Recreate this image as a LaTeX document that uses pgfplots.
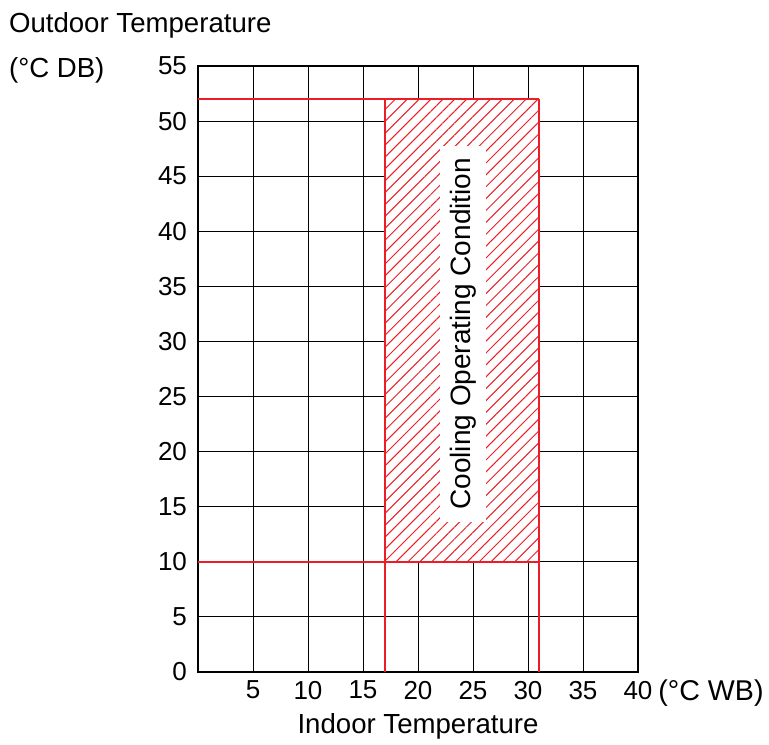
\documentclass[border=0pt]{standalone}
\usepackage{fontspec}
\setmainfont{Liberation Sans}
\usepackage{pgfplots}
\pgfplotsset{compat=1.18}
\usetikzlibrary{patterns.meta}
\definecolor{cred}{RGB}{235,30,40}
\begin{document}
\begin{tikzpicture}
\useasboundingbox (-99pt,-36pt) rectangle (285.5pt,336pt);
\begin{axis}[
  at={(0,0)}, anchor=south west,
  scale only axis, width=220pt, height=303pt,
  xmin=0, xmax=40, ymin=0, ymax=55,
  xtick={5,10,...,40}, ytick={0,5,...,55},
  extra x ticks={0}, extra x tick labels={},
  grid=major, major grid style={black, line width=0.5pt},
  axis line style={black, line width=0.6pt},
  tick style={draw=none},
  /pgf/number format/assume math mode=true,
  ticklabel style={font=\fontsize{13}{15}\selectfont},
  xticklabel style={yshift=-1pt},
  yticklabel style={xshift=-2pt},
]
\addplot[draw=none, fill=white] coordinates {(17,10) (31,10) (31,52) (17,52)} -- cycle;
\addplot[draw=none, pattern={Lines[angle=45, distance=4.2pt, line width=0.5pt]}, pattern color=cred] coordinates {(17,10) (31,10) (31,52) (17,52)} -- cycle;
\addplot[cred, line width=0.6pt] coordinates {(0,52) (31,52)};
\addplot[cred, line width=0.8pt] coordinates {(0,10) (31,10)};
\addplot[cred, line width=0.6pt] coordinates {(17,0) (17,52)};
\addplot[cred, line width=0.6pt] coordinates {(31,0) (31,52)};
\node[fill=white, rotate=90, inner xsep=6pt, inner ysep=5pt, font=\fontsize{14}{16}\selectfont] at (axis cs:24.1,30.7) {Cooling Operating Condition};
\end{axis}
\node[anchor=base west, font=\fontsize{13.8}{16}\selectfont] at (-98pt,319.5pt) {Outdoor Temperature};
\node[anchor=base west, font=\fontsize{13.8}{16}\selectfont] at (-98pt,297pt) {(°C DB)};
\node[anchor=base, font=\fontsize{13.8}{16}\selectfont] at (110pt,-30.5pt) {Indoor Temperature};
\node[anchor=base west, inner sep=0pt, font=\fontsize{14.3}{16}\selectfont] at (230pt,-14pt) {(°C WB)};
\end{tikzpicture}
\end{document}
